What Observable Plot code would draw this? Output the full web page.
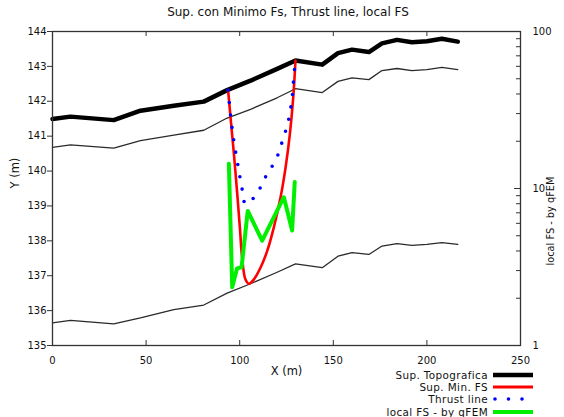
<!DOCTYPE html>
<html>
<head>
<meta charset="utf-8">
<script src="https://cdn.jsdelivr.net/npm/d3@7"></script>
<script src="https://cdn.jsdelivr.net/npm/@observablehq/plot@0.6"></script>
<style>
  body { margin: 0; background: #fff; }
  #chart { position: relative; width: 564px; height: 417px; overflow: hidden;
           font-family: "DejaVu Sans", sans-serif; color: #111; }
  #chart svg.plot { position: absolute; left: 0; top: 0; }
  .title { position: absolute; left: 0; top: 5px; width: 576px; text-align: center;
           font-size: 12px; line-height: 15px; }
  .legend { position: absolute; right: 31px; top: 369px; font-size: 10.4px; line-height: 12px;
            letter-spacing: 0.4px; }
  .legend .row { display: flex; justify-content: flex-end; align-items: center; height: 12.2px; }
  .legend svg { margin-left: 5px; }
</style>
</head>
<body>
<div id="chart">
  <div class="title">Sup. con Minimo Fs, Thrust line, local FS</div>
</div>
<script>
// Section profile: abscissa of the surveyed points (m)
const profileX = [0, 9.6, 32.7, 47, 64.8, 80.8, 93.3, 105.8, 120, 129.8, 144.1, 152.5, 160, 169, 176, 184, 192, 200, 208, 216.5];
// Ground surface (Sup. Topografica)
const topoY = [141.49, 141.56, 141.46, 141.73, 141.87, 141.99, 142.32, 142.59, 142.93, 143.17, 143.05, 143.38, 143.48, 143.41, 143.66, 143.76, 143.69, 143.72, 143.79, 143.71];
// Layer boundary below the surface
const layerY = [140.68, 140.75, 140.66, 140.87, 141.03, 141.17, 141.52, 141.77, 142.1, 142.36, 142.25, 142.57, 142.67, 142.62, 142.88, 142.94, 142.88, 142.91, 142.97, 142.91];
// Bedrock boundary
const baseY = [135.65, 135.72, 135.62, 135.79, 136.03, 136.16, 136.5, 136.77, 137.1, 137.34, 137.23, 137.56, 137.66, 137.61, 137.85, 137.92, 137.87, 137.9, 137.95, 137.9];

// Slip surface with minimum FS
const slipX = [93.8, 95.1, 96.9, 98.7, 100.1, 101.3, 103.1, 104.9, 107.5, 111.1, 114.7, 118.2, 121.8, 124.5, 126.8, 128.6, 129.8];
const slipY = [142.32, 141.54, 140.49, 139.34, 138.38, 137.51, 136.89, 136.77, 136.89, 137.23, 137.71, 138.38, 139.24, 140.10, 141.06, 142.11, 143.17];

// Thrust line
const thrustX = [93.8, 95.1, 96.8, 99.0, 101.3, 103.0, 105.5, 107.5, 111.1, 114.3, 118.2, 121.3, 123.2, 125.3, 126.6, 127.7, 128.4, 128.9, 129.8];
const thrustY = [142.32, 141.61, 140.89, 140.18, 139.48, 139.07, 139.1, 139.24, 139.53, 139.88, 140.22, 140.58, 140.95, 141.27, 141.61, 141.97, 142.32, 142.71, 143.17];

// Local safety factor along the slip surface (qFEM)
const fsX = [94.2, 96.0, 98.6, 101.0, 104.3, 112.0, 123.6, 128.0, 129.4];
const fsValue = [14.4, 2.35, 3.1, 3.15, 7.2, 4.65, 8.8, 5.4, 11];

// Axis ticks
const xTicks = [0, 50, 100, 150, 200, 250];
const yTicks = [135, 136, 137, 138, 139, 140, 141, 142, 143, 144];
const fsTicks = [1, 10, 100];
const fsMinor = [2, 3, 4, 5, 6, 7, 8, 9, 20, 30, 40, 50, 60, 70, 80, 90];

const W = 564, H = 395;
const M = {top: 31, right: 44, bottom: 50, left: 52};
const frameW = W - M.left - M.right;
const frameH = H - M.top - M.bottom;
const font = "DejaVu Sans, sans-serif";

const rows = (xs, ys) => xs.map((x, i) => ({x, y: ys[i]}));

const main = Plot.plot({
  width: W, height: H,
  marginTop: M.top, marginRight: M.right, marginBottom: M.bottom, marginLeft: M.left,
  style: {fontFamily: font, fontSize: "10px", color: "#111", background: "transparent"},
  x: {domain: [0, 250]},
  y: {domain: [135, 144]},
  marks: [
    Plot.line(rows(profileX, baseY), {x: "x", y: "y", stroke: "#2a2a2a", strokeWidth: 1.3, strokeLinejoin: "round"}),
    Plot.line(rows(profileX, layerY), {x: "x", y: "y", stroke: "#2a2a2a", strokeWidth: 1.3, strokeLinejoin: "round"}),
    Plot.line(rows(profileX, topoY), {x: "x", y: "y", stroke: "#000", strokeWidth: 4.5, strokeLinejoin: "round"}),
    Plot.line(rows(slipX, slipY), {x: "x", y: "y", stroke: "#ff0000", strokeWidth: 2.6, curve: "catmull-rom"}),
    Plot.line(rows(thrustX, thrustY), {x: "x", y: "y", stroke: "#0000ff", strokeWidth: 3.6,
      strokeDasharray: "0 12.5", strokeLinecap: "round", curve: "catmull-rom"}),
    Plot.frame({stroke: "#333", strokeWidth: 1.3}),
    // inward ticks on the bottom and top edges
    Plot.tickX(xTicks, {x: d => d, insetTop: frameH - 5, stroke: "#333"}),
    Plot.tickX(xTicks, {x: d => d, insetBottom: frameH - 5, stroke: "#333"}),
    Plot.axisX(xTicks, {anchor: "bottom", tickSize: 0, tickPadding: 11, label: null}),
    Plot.axisY(yTicks, {anchor: "left", tickSize: 5, tickPadding: 1, label: null, stroke: "#333"}),
    Plot.text(["X (m)"], {frameAnchor: "bottom", dy: 29, fontSize: 11.5}),
    Plot.text(["Y (m)"], {frameAnchor: "left", dx: -37, rotate: -90, fontSize: 11.5})
  ]
});
main.classList.add("plot");

const overlay = Plot.plot({
  width: W, height: H,
  marginTop: M.top, marginRight: M.right, marginBottom: M.bottom, marginLeft: M.left,
  style: {fontFamily: font, fontSize: "10px", color: "#111", background: "transparent"},
  x: {domain: [0, 250], axis: null},
  y: {type: "log", domain: [1, 100], axis: null},
  marks: [
    Plot.line(rows(fsX, fsValue), {x: "x", y: "y", stroke: "#00f000", strokeWidth: 4, strokeLinejoin: "round"}),
    Plot.tickY(fsMinor, {y: d => d, insetLeft: frameW - 4, stroke: "#333"}),
    Plot.tickY([10], {y: d => d, insetLeft: frameW - 6, stroke: "#333"}),
    Plot.axisY(fsTicks, {anchor: "right", tickSize: 0, tickPadding: 12, tickFormat: d => String(d), label: null}),
    Plot.text(["local FS - by qFEM"], {frameAnchor: "right", dx: 30, dy: -12, rotate: -90, fontSize: 9.8})
  ]
});
overlay.classList.add("plot");

const chart = document.getElementById("chart");
chart.appendChild(main);
chart.appendChild(overlay);

// Legend below the plot area
const legendItems = [
  {label: "Sup. Topografica", stroke: "#000", width: 4.5},
  {label: "Sup. Min. FS", stroke: "#ff0000", width: 3},
  {label: "Thrust line", stroke: "#0000ff", width: 3.6, dash: "0 13.5"},
  {label: "local FS - by qFEM", stroke: "#00f000", width: 4}
];
const legend = document.createElement("div");
legend.className = "legend";
for (const item of legendItems) {
  const row = document.createElement("div");
  row.className = "row";
  const span = document.createElement("span");
  span.textContent = item.label;
  row.appendChild(span);
  const sw = d3.create("svg").attr("width", 40).attr("height", 12);
  sw.append("line").attr("x1", item.dash ? 2 : 0).attr("x2", 40).attr("y1", 6).attr("y2", 6)
    .attr("stroke", item.stroke).attr("stroke-width", item.width)
    .attr("stroke-dasharray", item.dash || null)
    .attr("stroke-linecap", item.dash ? "round" : "butt");
  row.appendChild(sw.node());
  legend.appendChild(row);
}
chart.appendChild(legend);
</script>
</body>
</html>
